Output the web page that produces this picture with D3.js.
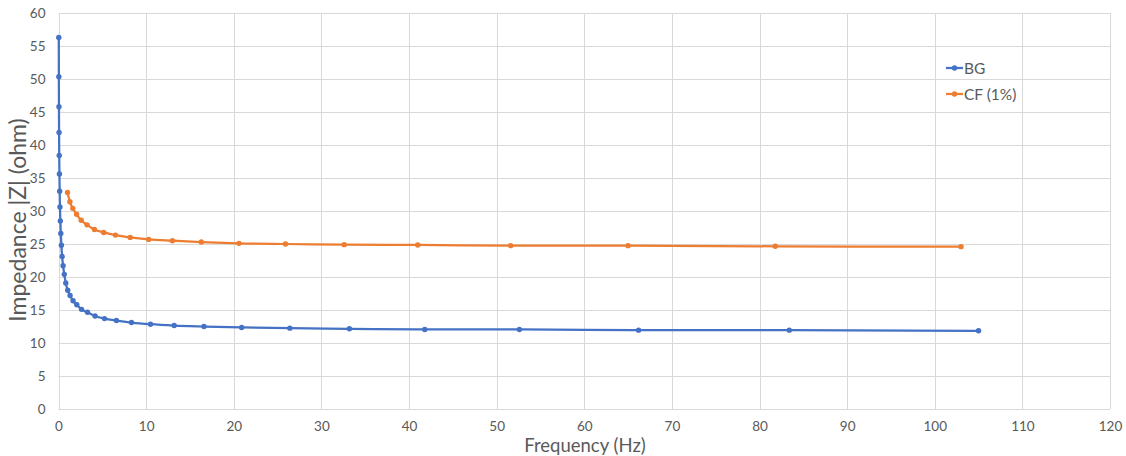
<!DOCTYPE html>
<html>
<head>
<meta charset="utf-8">
<script src="https://cdn.jsdelivr.net/npm/d3@7"></script>
<style>
  html, body { margin: 0; padding: 0; background: #fff; }
  svg { display: block; font-family: Lato, "Open Sans", sans-serif; }
</style>
</head>
<body>
<svg id="chart" width="1126" height="456"></svg>
<script>
// Frequency sweep (Hz) and impedance magnitude (ohm) for each sample
const bgFreq = [0.033, 0.042, 0.052, 0.066, 0.083, 0.105, 0.132, 0.166, 0.209, 0.263,
  0.331, 0.417, 0.525, 0.66, 0.83, 1.05, 1.32, 1.66, 2.09, 2.63,
  3.31, 4.17, 5.25, 6.61, 8.33, 10.5, 13.2, 16.6, 20.9, 26.4,
  33.2, 41.8, 52.6, 66.2, 83.4, 105];
const bgZ = [56.3, 50.35, 45.8, 41.9, 38.4, 35.6, 33.0, 30.6, 28.5, 26.6,
  24.8, 23.1, 21.7, 20.4, 19.1, 18.0, 17.2, 16.4, 15.8, 15.1,
  14.65, 14.1, 13.7, 13.4, 13.1, 12.85, 12.65, 12.5, 12.35, 12.25,
  12.15, 12.05, 12.05, 11.95, 11.95, 11.85];

const cfFreq = [1.03, 1.3, 1.63, 2.06, 2.59, 3.26, 4.1, 5.16, 6.5, 8.18,
  10.3, 13.0, 16.3, 20.6, 25.9, 32.6, 41, 51.6, 65, 81.8, 103];
const cfZ = [32.8, 31.4, 30.4, 29.5, 28.6, 27.9, 27.2, 26.75, 26.35, 26.0,
  25.7, 25.5, 25.3, 25.1, 25.0, 24.9, 24.85, 24.75, 24.75, 24.65, 24.6];

const seriesNames = ["BG", "CF (1%)"];
const seriesColors = ["#4472C4", "#ED7D31"];
const xTicks = [0, 10, 20, 30, 40, 50, 60, 70, 80, 90, 100, 110, 120];
const yTicks = [0, 5, 10, 15, 20, 25, 30, 35, 40, 45, 50, 55, 60];
const xTitle = "Frequency (Hz)";
const yTitle = "Impedance |Z| (ohm)";

const svg = d3.select("#chart");
const plot = { left: 58.5, right: 1110, top: 13, bottom: 409 };

const x = d3.scaleLinear().domain([0, 120]).range([plot.left, plot.right]);
const y = d3.scaleLinear().domain([0, 60]).range([plot.bottom, plot.top]);

const gridColor = "#d9d9d9";
const textColor = "#595959";

// Gridlines
svg.append("g").selectAll("line").data(yTicks).join("line")
  .attr("x1", plot.left).attr("x2", plot.right)
  .attr("y1", d => Math.round(y(d)) + 0.5).attr("y2", d => Math.round(y(d)) + 0.5)
  .attr("stroke", gridColor).attr("stroke-width", 1);
svg.append("g").selectAll("line").data(xTicks).join("line")
  .attr("y1", plot.top).attr("y2", plot.bottom)
  .attr("x1", d => Math.round(x(d)) + 0.5).attr("x2", d => Math.round(x(d)) + 0.5)
  .attr("stroke", gridColor).attr("stroke-width", 1);

// Axes (labels only; lines come from the grid)
const xAxis = svg.append("g")
  .attr("transform", `translate(0,${plot.bottom})`)
  .call(d3.axisBottom(x).tickValues(xTicks).tickSize(0).tickPadding(12));
const yAxis = svg.append("g")
  .attr("transform", `translate(${plot.left},0)`)
  .call(d3.axisLeft(y).tickValues(yTicks).tickSize(0).tickPadding(13));
[xAxis, yAxis].forEach(g => {
  g.select(".domain").remove();
  g.selectAll("text").attr("fill", textColor).style("font-size", "13.5px")
    .style("font-family", "Lato, 'Open Sans', sans-serif");
});

// Axis titles
svg.append("text")
  .attr("x", 585).attr("y", 452)
  .attr("text-anchor", "middle").attr("fill", textColor)
  .style("font-size", "18.5px").text(xTitle);
svg.append("text")
  .attr("transform", `translate(26,220) rotate(-90)`)
  .attr("text-anchor", "middle").attr("fill", textColor)
  .style("font-size", "23px").text(yTitle);

// Series
const series = [
  { name: seriesNames[0], color: seriesColors[0], pts: bgFreq.map((f, i) => [f, bgZ[i]]) },
  { name: seriesNames[1], color: seriesColors[1], pts: cfFreq.map((f, i) => [f, cfZ[i]]) }
];
const line = d3.line().x(d => x(d[0])).y(d => y(d[1])).curve(d3.curveMonotoneX);

series.forEach(s => {
  svg.append("path").datum(s.pts)
    .attr("d", line).attr("fill", "none")
    .attr("stroke", s.color).attr("stroke-width", 2.25)
    .attr("stroke-linejoin", "round").attr("stroke-linecap", "round");
  svg.append("g").selectAll("circle").data(s.pts).join("circle")
    .attr("cx", d => x(d[0])).attr("cy", d => y(d[1])).attr("r", 2.7)
    .attr("fill", s.color);
});

// Legend
const legend = svg.append("g").attr("transform", "translate(946,68)");
series.forEach((s, i) => {
  const g = legend.append("g").attr("transform", `translate(0,${i * 26})`);
  g.append("line").attr("x1", 0).attr("x2", 17).attr("y1", 0).attr("y2", 0)
    .attr("stroke", s.color).attr("stroke-width", 2.25);
  g.append("circle").attr("cx", 8.5).attr("cy", 0).attr("r", 2.7).attr("fill", s.color);
  g.append("text").attr("x", 18).attr("y", 0).attr("dy", "0.36em")
    .attr("fill", textColor).style("font-size", "15.5px").text(s.name);
});
</script>
</body>
</html>
